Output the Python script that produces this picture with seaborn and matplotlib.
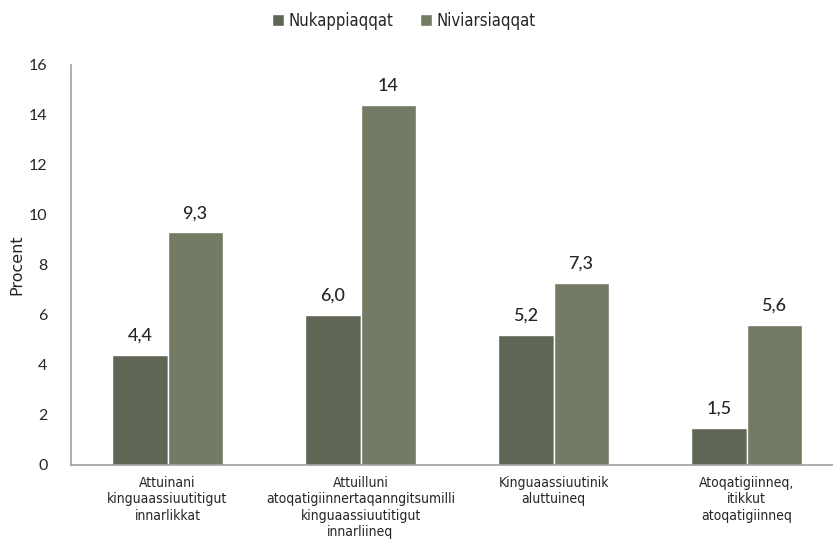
import pandas as pd
import matplotlib.pyplot as plt
import seaborn as sns

#%%

# Data
categories = ['Attuinani\nkinguaassiuutitigut\ninnarlikkat',
              'Attuilluni\natoqatigiinnertaqanngitsumilli\nkinguaassiuutitigut\ninnarliineq',
              'Kinguaassiuutinik\naluttuineq',
              'Atoqatigiinneq,\nitikkut\natoqatigiinneq']
series = ['Nukappiaqqat', 'Niviarsiaqqat']
nukappiaqqat = [4.4, 6.0, 5.2, 1.5]
niviarsiaqqat = [9.3, 14.4, 7.3, 5.6]
labels_nuk = ['4,4', '6,0', '5,2', '1,5']
labels_niv = ['9,3', '14', '7,3', '5,6']
colors = ['#5f6655', '#737b64']

df = pd.DataFrame({
    'kategori': categories * 2,
    'gruppe': [series[0]] * 4 + [series[1]] * 4,
    'procent': nukappiaqqat + niviarsiaqqat,
})

#%%

sns.set_style('white')
plt.rcParams['font.family'] = ['DejaVu Sans']
plt.rcParams['font.stretch'] = 'condensed'

fig = plt.figure(figsize=(8.33, 5.43), dpi=100)
ax = fig.add_axes([71 / 833, 78 / 543, 762 / 833, 400 / 543])

sns.barplot(data=df, x='kategori', y='procent', hue='gruppe',
            palette=colors, width=0.57, saturation=1, ax=ax)

for cont, labs in zip(ax.containers, [labels_nuk, labels_niv]):
    ax.bar_label(cont, labels=labs, padding=8, fontsize=13,
                 family=['Lato', 'DejaVu Sans'], fontweight='medium')

ax.set_ylim(0, 16)
ax.set_xlim(-0.5, -0.5 + 762 / 193)
ax.set_yticks(range(0, 17, 2))
ax.tick_params(axis='y', labelsize=11.5, length=0, pad=17)
ax.tick_params(axis='x', labelsize=10, length=0, pad=8)
for t in ax.get_yticklabels():
    t.set_family(['Lato', 'DejaVu Sans'])
ax.set_xlabel('')
ax.set_ylabel('Procent', fontsize=11.5, fontstretch='normal', labelpad=3)

for s in ['top', 'right']:
    ax.spines[s].set_visible(False)
for s in ['left', 'bottom']:
    ax.spines[s].set_color('#a0a0a0')
    ax.spines[s].set_linewidth(1.2)

ax.legend(loc='upper center', bbox_to_anchor=(333 / 762, 1.17), ncol=2,
          frameon=False, fontsize=12, handlelength=0.7, handleheight=0.7,
          handletextpad=0.3, columnspacing=1.6)

fig.savefig('out.png', dpi=100)
